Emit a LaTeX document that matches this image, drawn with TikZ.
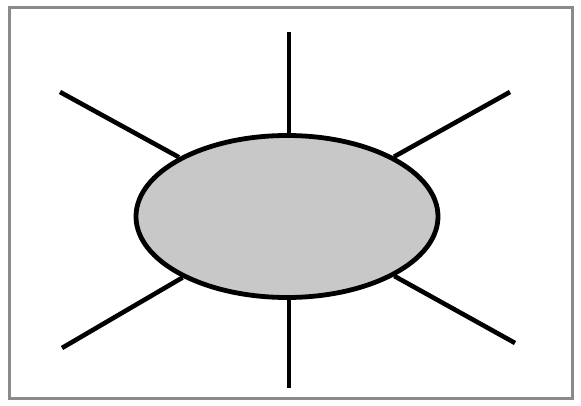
\documentclass[tikz,border=0pt]{standalone}
\usetikzlibrary{shapes.geometric}
\definecolor{fillgray}{HTML}{C8C8C8}
\definecolor{framegray}{HTML}{8A8A8A}
\begin{document}
\begin{tikzpicture}[x=1pt,y=-1pt,
  blob/.style={ellipse, draw=black, line width=4.8pt, fill=fillgray, minimum width=302pt, minimum height=162pt, inner sep=0pt},
  ray/.style={draw=black, line width=4.6pt},
  vray/.style={draw=black, line width=3.4pt},
  frame/.style={draw=framegray, line width=3pt}]
\useasboundingbox (0,0) rectangle (581,406);
\fill[white] (0,0) rectangle (581,406);
\draw[frame] (9.5,7.5) rectangle (572,398.5);
\coordinate (t) at (289,32);
\coordinate (b) at (289,388);
\coordinate (tl) at (60,92);
\coordinate (tr) at (510,92);
\coordinate (bl) at (62,348);
\coordinate (br) at (515,343);
\node[blob] (e) at (287,216.5) {};
\draw[vray] (e.north -| t) -- (t);
\draw[vray] (e.south -| b) -- (b);
\draw[ray] (e) -- (tl);
\draw[ray] (e) -- (tr);
\draw[ray] (e) -- (bl);
\draw[ray] (e) -- (br);
\end{tikzpicture}
\end{document}
